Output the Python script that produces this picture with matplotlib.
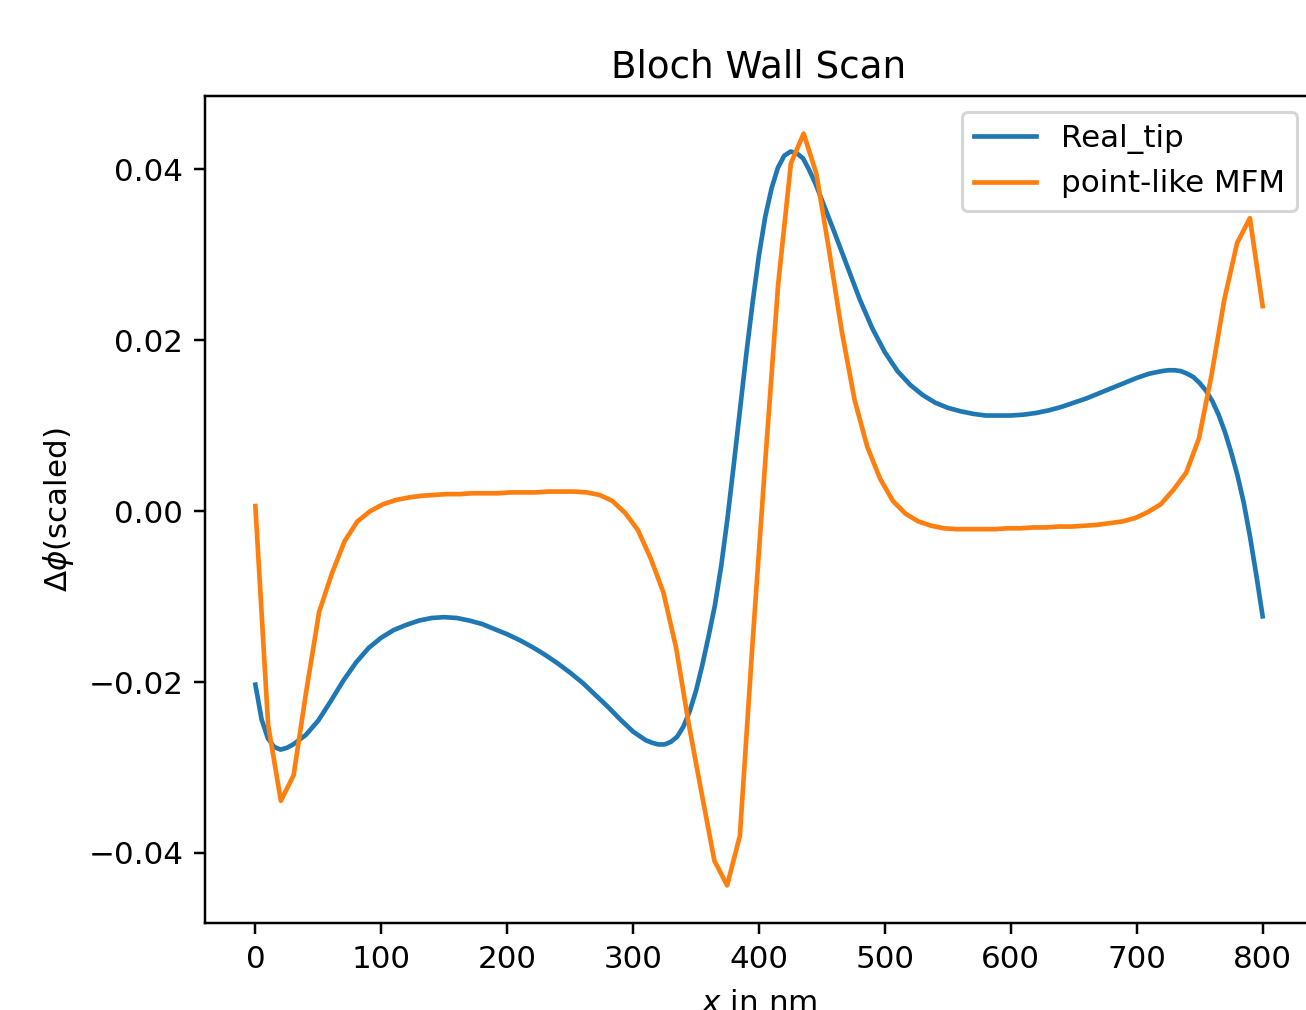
import numpy as np
import matplotlib
matplotlib.use("Agg")
import matplotlib.pyplot as plt

# "Real_tip" curve: positions (nm) and values
real_x = [
    0, 5, 10, 15, 20, 25, 30, 40, 50, 60, 70, 80, 90, 100, 110, 120, 130, 140, 150, 160,
    170, 180, 190, 200, 210, 220, 230, 240, 250, 260, 270, 280, 290, 300, 305, 310, 315, 320,
    325, 330, 335, 340, 345, 350, 355, 360, 365, 370, 375, 380, 385, 390, 395, 400, 405, 410,
    415, 420, 425, 430, 435, 440, 445, 450, 455, 460, 470, 480, 490, 500, 510, 520, 530, 540,
    550, 560, 570, 580, 590, 600, 610, 620, 630, 640, 650, 660, 670, 680, 690, 700, 710, 720,
    725, 730, 735, 740, 745, 750, 755, 760, 765, 770, 775, 780, 785, 790, 795, 800,
]
real_tip = [
    -0.0203, -0.0244, -0.0266, -0.0276, -0.0279, -0.0277, -0.0273, -0.0262, -0.0245, -0.0222,
    -0.0198, -0.0177, -0.0160, -0.0148, -0.0139, -0.0133, -0.0128, -0.0125, -0.0124, -0.0125,
    -0.0128, -0.0132, -0.0138, -0.0144, -0.0151, -0.0159, -0.0168, -0.0178, -0.0189, -0.0201,
    -0.0215, -0.0229, -0.0244, -0.0258, -0.0263, -0.0268, -0.0271, -0.0273,
    -0.0273, -0.0270, -0.0264, -0.0252, -0.0234, -0.0210, -0.0180, -0.0146, -0.0110, -0.0064,
    -0.0008, 0.0055, 0.0120, 0.0185, 0.0245, 0.0300, 0.0345, 0.0378,
    0.0402, 0.0416, 0.0421, 0.0419, 0.0413, 0.0399, 0.0383, 0.0364, 0.0345, 0.0326, 0.0287,
    0.0248, 0.0214, 0.0186, 0.0164, 0.0148, 0.0136, 0.0127,
    0.0121, 0.0117, 0.0114, 0.0112, 0.0112, 0.0112, 0.0113, 0.0115, 0.0118, 0.0122, 0.0127,
    0.0132, 0.0138, 0.0144, 0.0150, 0.0156, 0.0161, 0.0164,
    0.0165, 0.0165, 0.0164, 0.0161, 0.0157, 0.0150, 0.0141, 0.0129, 0.0113, 0.0093, 0.0069,
    0.0042, 0.0010, -0.0030, -0.0075, -0.0123,
]

# "point-like MFM" curve: 80 samples from 0 to 800 nm
point_x = np.linspace(0, 800, 80)
point_like = [
    0.0006, -0.0250, -0.0339, -0.0309, -0.0210, -0.0118, -0.0073, -0.0035, -0.0012, 0.0000,
    0.0008, 0.0013, 0.0016, 0.0018, 0.0019, 0.0020, 0.0020, 0.0021, 0.0021, 0.0021,
    0.0022, 0.0022, 0.0022, 0.0023, 0.0023, 0.0023, 0.0022, 0.0019, 0.0012, -0.0002,
    -0.0022, -0.0055, -0.0095, -0.0160, -0.0250, -0.0330, -0.0409, -0.0438, -0.0380, -0.0153,
    0.0060, 0.0265, 0.0407, 0.0442, 0.0395, 0.0305, 0.0210, 0.0130, 0.0075, 0.0038,
    0.0012, -0.0003, -0.0012, -0.0017, -0.0020, -0.0021, -0.0021, -0.0021, -0.0021, -0.0020,
    -0.0020, -0.0019, -0.0019, -0.0018, -0.0018, -0.0017, -0.0016, -0.0014, -0.0012, -0.0008,
    -0.0001, 0.0008, 0.0025, 0.0045, 0.0085, 0.0160, 0.0248, 0.0314, 0.0343, 0.0240,
]

series_labels = ["Real_tip", "point-like MFM"]
x_ticks = [0, 100, 200, 300, 400, 500, 600, 700, 800]
y_ticks = [-0.04, -0.02, 0.00, 0.02, 0.04]

DPI = 223.5
W, H = 1306, 1010
fig = plt.figure(figsize=(W / DPI, H / DPI), dpi=DPI)
left, right, top, bottom = 205, 1313, 96, 923
ax = fig.add_axes([left / W, (H - bottom) / H, (right - left) / W, (bottom - top) / H])

ax.plot(real_x, real_tip, label=series_labels[0])
ax.plot(point_x, point_like, label=series_labels[1])
ax.set_title("Bloch Wall Scan")
ax.set_xlabel("$x$ in nm", labelpad=5)
ax.set_ylabel(r"$\Delta\phi$(scaled)")
ax.set_xticks(x_ticks)
ax.set_yticks(y_ticks)
ax.legend(loc="upper right")

fig.savefig("out.png", dpi=DPI)
